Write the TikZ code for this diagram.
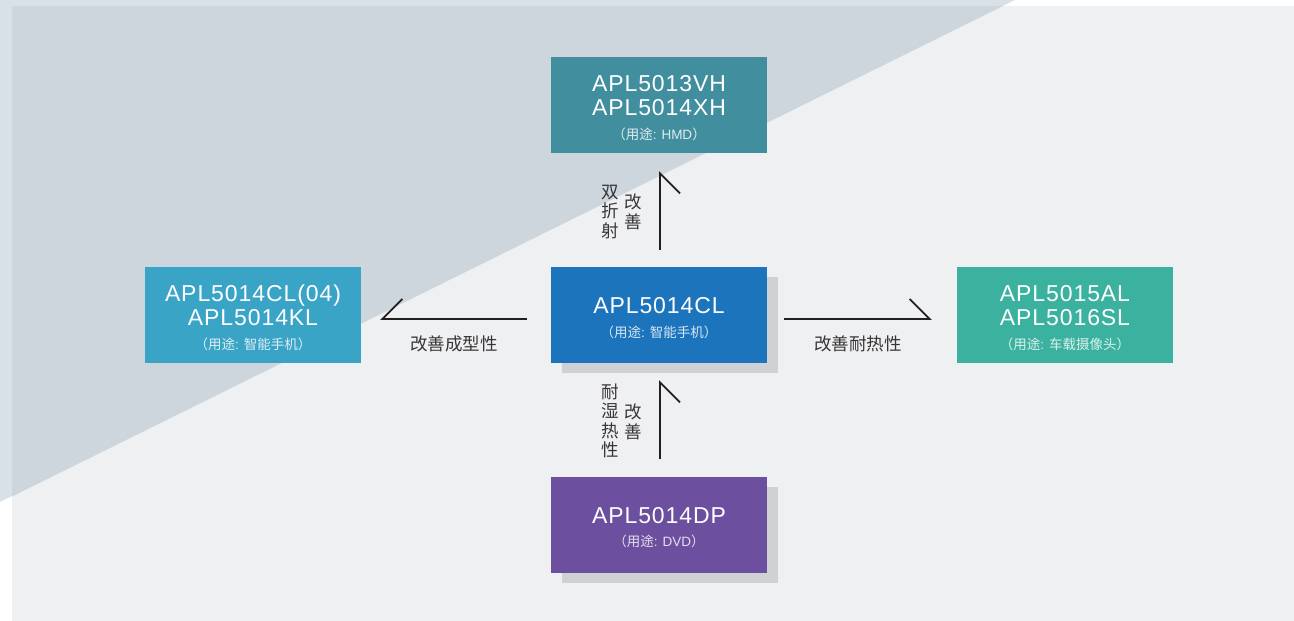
\documentclass[tikz,border=0pt]{standalone}
\usepackage{fontspec}
\setmainfont{Liberation Sans}
\newfontfamily\cjk{Noto Sans CJK SC}
\newfontfamily\partfont[LetterSpace=4]{Liberation Sans}
\usetikzlibrary{arrows.meta,shadows}

\definecolor{rim}{HTML}{D9E1E8}
\definecolor{wedge}{HTML}{CDD6DD}
\definecolor{panel}{HTML}{EEF0F2}
\definecolor{hmdcol}{HTML}{418F9E}
\definecolor{phonecol}{HTML}{3AA4C6}
\definecolor{maincol}{HTML}{1C75BC}
\definecolor{carcol}{HTML}{3BB29F}
\definecolor{dvdcol}{HTML}{6C4F9E}
\definecolor{shade}{HTML}{CFD2D5}
\definecolor{ink}{HTML}{231F20}

\newcommand\usage[2]{{\rmfamily\fontsize{13.5}{15}\selectfont\color{white!82!#1}{\cjk（用途}: #2{\cjk）}}}
\newcommand\lift{\rule{0pt}{22pt}}

\tikzset{
  chip/.style={minimum width=216pt, minimum height=96pt, inner sep=0pt, text=white, align=center, font=\partfont\fontsize{23}{24.5}\selectfont},
  lifted/.style={drop shadow={shadow xshift=11pt, shadow yshift=-10pt, fill=shade, opacity=1}},
  barb/.style={draw=ink, line width=1.8pt},
  note/.style={text=ink!90, font=\cjk\fontsize{17.5}{19.5}\selectfont, align=center, inner sep=0pt},
}

\begin{document}
\begin{tikzpicture}[x=1pt,y=-1pt]
\useasboundingbox (0,0) rectangle (1294,621);
% backdrop
\fill[rim] (0,0) -- (1015,0) -- (0,502) -- cycle;
\fill[panel] (12,6) rectangle (1294,621);
\fill[wedge] (12,6) -- (1003,6) -- (12,496.5) -- cycle;

% parts
\draw (659,315) node[chip,lifted,fill=maincol](cl) {\lift APL5014CL\\[-1pt]\usage{maincol}{\cjk 智能手机}};
\draw (659,105) node[chip,fill=hmdcol](hmd) {\lift APL5013VH\\APL5014XH\\[-1pt]\usage{hmdcol}{HMD}};
\draw (253,315) node[chip,fill=phonecol](kl) {\lift APL5014CL(04)\\APL5014KL\\[-1pt]\usage{phonecol}{\cjk 智能手机}};
\draw (1065,315) node[chip,fill=carcol](sl) {\lift APL5015AL\\APL5016SL\\[-1pt]\usage{carcol}{\cjk 车载摄像头}};
\draw (659,524.5) node[chip,lifted,fill=dvdcol](dp) {\lift APL5014DP\\[-1pt]\usage{dvdcol}{DVD}};

% improvements
\draw[barb, -{Straight Barb[length=20pt,width=40pt,harpoon,swap]}, shorten <=24pt, shorten >=19pt] ([yshift=-4pt]cl.west) -- ([yshift=-4pt]kl.east);
\draw[barb, -{Straight Barb[length=20pt,width=40pt,harpoon]}, shorten <=17pt, shorten >=25pt] ([yshift=-4pt]cl.east) -- ([yshift=-4pt]sl.west);
\draw[barb, -{Straight Barb[length=20pt,width=40pt,harpoon,swap]}, shorten <=17pt, shorten >=18pt] ([xshift=1pt]cl.north) -- ([xshift=1pt]hmd.south);
\draw[barb, -{Straight Barb[length=20pt,width=40pt,harpoon,swap]}, shorten <=17pt, shorten >=17pt] ([xshift=1pt]dp.north) -- ([xshift=1pt]cl.south);

% labels
\draw (454,344) node[note](mold) {改善成型性};
\draw (858,344) node[note](heat) {改善耐热性};
\draw (610,212) node[note](bire) {双\\折\\射};
\draw (633,212) node[note](bireup) {改\\善};
\draw (610,421) node[note](damp) {耐\\湿\\热\\性};
\draw (633,422) node[note](dampup) {改\\善};
\end{tikzpicture}
\end{document}
